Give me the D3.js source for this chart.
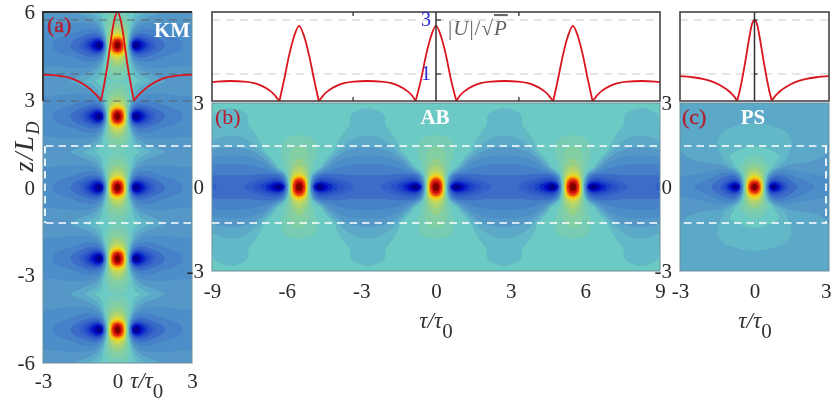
<!DOCTYPE html>
<html><head><meta charset="utf-8">
<script src="https://cdn.jsdelivr.net/npm/d3@7"></script>
<style>html,body{margin:0;background:#fff}svg{display:block}text{font-family:"Liberation Serif",serif}</style>
</head><body><svg id="c" width="831" height="402"></svg>
<script>
// Colour bands of the filled contour plots (value >= threshold gets the colour)
const thresholds=[0,.05,.1,.16,.22,.28,.34,.4,.5,.6,.7,.8,.9,1.0,1.1,1.2,1.35,1.5,1.7,1.9,2.1,2.3,2.5,2.7,2.85];
const bandColors=["#000070","#00009a","#0008c0","#0a28c8","#1e42c8","#2a52c8","#3060c8","#3a6cc8","#4480c8","#4c8ec8","#5498c8","#5ca8c8","#64b8c8","#6ccac4","#78ccb4","#84cea4","#98d088","#b0d470","#ccd850","#ecd820","#f8b808","#f48008","#e83808","#c80808","#800000"];

// Fields, one quadrant of a repeating tile each:
// rows run along zKnots, columns along tauKnots. The tile is mirrored and repeated at the peak centres.
const tauKnotsAC=[0,.12,.24,.36,.48,.6,.72,.84,1.0,1.2,1.45,1.8,2.2,2.6,3.0];
const tauKnotsB=[0,.12,.24,.36,.48,.6,.72,.84,1.0,1.2,1.45,1.7,2.0,2.35,2.75];
const zKnotsA=[0,.1,.2,.3,.4,.55,.7,.85,1.03,1.215];
const zKnotsBC=[0,.1,.2,.3,.42,.55,.7,.9,1.1,1.35,1.6,1.9,2.25,2.6,3.0];
const peakZsA=[-4.86,-2.43,0,2.43,4.86];
const peakTausB=[-11,-5.5,0,5.5,11];
const fieldA=[
[3,2.85,2.5,1.5,.6,.1,.02,.05,.14,.24,.36,.48,.55,.6,.62],
[2.95,2.8,2.45,1.5,.65,.18,.08,.1,.18,.28,.38,.49,.56,.6,.63],
[2.7,2.6,2.25,1.45,.8,.38,.22,.2,.26,.34,.43,.52,.57,.61,.64],
[2.25,2.15,1.9,1.4,.92,.55,.4,.36,.38,.43,.5,.56,.6,.63,.65],
[1.9,1.82,1.65,1.35,1.0,.7,.54,.49,.49,.51,.56,.6,.63,.65,.67],
[1.6,1.56,1.45,1.28,1.08,.86,.7,.63,.6,.59,.61,.64,.66,.68,.69],
[1.4,1.38,1.32,1.22,1.1,.96,.83,.75,.69,.67,.67,.68,.69,.7,.7],
[1.27,1.26,1.22,1.16,1.09,1.0,.91,.84,.79,.75,.73,.72,.72,.71,.71],
[1.17,1.16,1.14,1.11,1.07,1.02,.97,.93,.88,.84,.8,.76,.74,.72,.71],
[1.09,1.09,1.09,1.08,1.07,1.06,1.04,1.02,.99,.94,.88,.82,.77,.74,.72]];
const fieldB=[
[3,2.88,2.55,1.5,.6,.12,.03,.01,.07,.16,.24,.3,.36,.42,.45],
[2.95,2.82,2.5,1.5,.68,.26,.13,.09,.13,.2,.27,.33,.38,.43,.45],
[2.8,2.7,2.35,1.48,.8,.42,.28,.22,.24,.28,.33,.37,.41,.45,.46],
[2.55,2.45,2.1,1.42,.92,.57,.41,.34,.33,.35,.38,.42,.45,.47,.48],
[2.0,1.92,1.72,1.38,1.02,.72,.55,.47,.45,.45,.47,.48,.5,.5,.5],
[1.75,1.7,1.55,1.32,1.14,1.02,.88,.74,.62,.56,.54,.54,.54,.54,.54],
[1.55,1.52,1.42,1.27,1.16,1.07,1.04,1.0,.84,.69,.62,.59,.58,.57,.57],
[1.42,1.38,1.32,1.24,1.17,1.11,1.06,1.03,1.0,.84,.71,.66,.63,.62,.62],
[1.32,1.3,1.27,1.22,1.17,1.13,1.1,1.06,1.03,1.0,.84,.75,.71,.69,.69],
[1.24,1.23,1.21,1.18,1.15,1.12,1.1,1.08,1.05,1.02,1.0,.87,.81,.78,.78],
[1.16,1.16,1.15,1.14,1.13,1.11,1.09,1.07,1.05,1.03,1.01,.98,.89,.86,.85],
[1.09,1.09,1.08,1.08,1.07,1.07,1.06,1.05,1.04,1.03,1.02,1.01,.96,.92,.91],
[1.05,1.05,1.05,1.05,1.05,1.04,1.04,1.04,1.04,1.03,1.03,1.02,1.01,.96,.95],
[1.04,1.04,1.04,1.04,1.03,1.03,1.03,1.03,1.03,1.03,1.02,1.02,1.0,.99,.98],
[1.03,1.03,1.03,1.03,1.03,1.03,1.03,1.03,1.03,1.03,1.03,1.03,1.02,1.02,1.01]];
const fieldC=[
[3,2.88,2.5,1.5,.6,.12,.02,.04,.14,.28,.42,.52,.58,.61,.64],
[2.9,2.78,2.42,1.48,.66,.24,.11,.12,.2,.32,.44,.53,.59,.62,.64],
[2.65,2.55,2.2,1.42,.78,.4,.26,.25,.31,.39,.48,.56,.61,.64,.66],
[2.25,2.15,1.88,1.38,.92,.56,.42,.38,.4,.45,.53,.6,.64,.67,.69],
[1.9,1.82,1.62,1.32,1.0,.74,.58,.5,.5,.54,.59,.65,.68,.7,.71],
[1.6,1.55,1.45,1.3,1.14,.98,.8,.7,.62,.62,.66,.7,.72,.73,.74],
[1.42,1.38,1.32,1.24,1.17,1.12,1.03,.95,.85,.76,.73,.74,.75,.76,.77],
[1.2,1.19,1.17,1.13,1.09,1.06,1.03,1.01,.98,.91,.85,.82,.8,.79,.78],
[1.11,1.11,1.1,1.09,1.07,1.05,1.04,1.03,1.0,.93,.87,.84,.82,.81,.79],
[1.02,1.02,1.02,1.01,1.0,.995,.99,.98,.97,.95,.9,.85,.83,.82,.8],
[.97,.97,.97,.97,.97,.96,.96,.96,.95,.93,.91,.86,.84,.82,.81],
[.95,.95,.95,.95,.95,.95,.95,.94,.93,.92,.89,.85,.84,.83,.82],
[.905,.905,.9,.9,.9,.89,.89,.88,.88,.87,.86,.84,.83,.83,.82],
[.87,.87,.87,.86,.86,.86,.85,.85,.85,.84,.84,.83,.83,.82,.82],
[.83,.83,.83,.83,.83,.83,.83,.83,.83,.83,.82,.82,.82,.82,.82]];

// Red profile curves |U|/sqrt(P) against tau
const curveATau=[-3,-2.5,-2.03,-1.7,-1.37,-1.1,-.96,-.85,-.75,-.67,-.6,-.5,-.4,-.3,-.2,-.1,0,.1,.2,.3,.4,.5,.6,.67,.75,.85,.96,1.1,1.37,1.7,2.03,2.5,3];
const curveAVal=[.98,.95,.88,.78,.62,.44,.32,.22,.12,0,.3,.8,1.35,2.0,2.65,3.1,3.3,3.1,2.65,2.0,1.35,.8,.3,0,.12,.22,.32,.44,.62,.78,.88,.95,.98];
const curveBTau=[-9,-8.8,-8.25,-7.7,-7.3,-7,-6.7,-6.5,-6.4,-6.29,-6.1,-5.9,-5.7,-5.5,-5.3,-5.1,-4.9,-4.71,-4.6,-4.5,-4.3,-4,-3.7,-3.3,-2.75,-2.2,-1.8,-1.5,-1.2,-1,-.9,-.82,-.6,-.4,-.2,0,.2,.4,.6,.82,.9,1,1.2,1.5,1.8,2.2,2.75,3.3,3.7,4,4.3,4.5,4.6,4.71,4.9,5.1,5.3,5.5,5.7,5.9,6.1,6.29,6.4,6.5,6.7,7,7.3,7.7,8.25,8.8,9];
const curveBVal=[.7,.72,.74,.72,.66,.56,.4,.24,.12,0,.8,1.7,2.4,2.78,2.4,1.7,.8,0,.12,.24,.4,.56,.66,.72,.74,.72,.66,.56,.4,.24,.12,0,.8,1.7,2.4,2.78,2.4,1.7,.8,0,.12,.24,.4,.56,.66,.72,.74,.72,.66,.56,.4,.24,.12,0,.8,1.7,2.4,2.78,2.4,1.7,.8,0,.12,.24,.4,.56,.66,.72,.74,.72,.7];
const curveCTau=[-3,-2.5,-2,-1.6,-1.3,-1.05,-.9,-.78,-.7,-.6,-.5,-.4,-.3,-.2,-.1,0,.1,.2,.3,.4,.5,.6,.7,.78,.9,1.05,1.3,1.6,2,2.5,3];
const curveCVal=[.92,.88,.8,.68,.54,.38,.25,.12,0,.35,.8,1.3,1.85,2.4,2.85,3.0,2.85,2.4,1.85,1.3,.8,.35,0,.12,.25,.38,.54,.68,.8,.88,.92];

const xTicksA=[-3,0,3], yTicksA=[-6,-3,0,3,6];
const xTicksB=[-9,-6,-3,0,3,6,9], yTicksB=[-3,0,3];
const xTicksC=[-3,0,3];
const insetRefLines=[1,3];
const insetTauMarksB=[-3.33,3.33];
const insetMarksVal=[1,3];

const svg=d3.select("#c");
const defs=svg.append("defs");
defs.append("filter").attr("id","soft").attr("x","-5%").attr("y","-5%").attr("width","110%").attr("height","110%")
  .append("feGaussianBlur").attr("stdDeviation",0.75);
defs.append("filter").attr("id","softer").attr("x","-5%").attr("y","-5%").attr("width","110%").attr("height","110%")
  .append("feGaussianBlur").attr("stdDeviation",0.35);

const xA=d3.scaleLinear().domain([-3,3]).range([43,192]);
const yA=d3.scaleLinear().domain([-6,6]).range([363,12]);
const xB=d3.scaleLinear().domain([-9,9]).range([212,660]);
const yB=d3.scaleLinear().domain([-3,3]).range([271,103]);
const xC=d3.scaleLinear().domain([-3,3]).range([680,829]);
const yInset=d3.scaleLinear().domain([0,3]).range([101,20]);

function mirrored(knots,centers){
  const out=[];
  function push(p,k){ if(!out.length||p-out[out.length-1].p>1e-6) out.push({p,k}); }
  centers.forEach(c=>{
    for(let k=knots.length-1;k>=0;k--) push(c-knots[k],k);
    for(let k=1;k<knots.length;k++) push(c+knots[k],k);
  });
  // pad past the plot so that band edges are not rounded off at the frame
  const a=out[0],b=out[out.length-1];
  return [{p:a.p-.8,k:a.k},...out,{p:b.p+.8,k:b.k}];
}
function drawField(id,matrix,tauKnots,zKnots,tauCenters,zCenters,x,y){
  const cols=mirrored(tauKnots,tauCenters), rows=mirrored(zKnots,zCenters);
  const m=cols.length,n=rows.length,values=new Float64Array(m*n);
  rows.forEach((r,j)=>cols.forEach((c,i)=>{values[j*m+i]=matrix[r.k][c.k];}));
  const ix=d3.scaleLinear().domain(d3.range(m)).range(cols.map(c=>c.p)).clamp(true);
  const iy=d3.scaleLinear().domain(d3.range(n)).range(rows.map(r=>r.p)).clamp(true);
  const ring=d3.line().x(d=>x(ix(d[0]-.5))).y(d=>y(iy(d[1]-.5))).curve(d3.curveBasisClosed);
  const pathOf=c=>c.coordinates.map(poly=>poly.map(r=>ring(r.slice(0,-1))).join("")).join("");
  const [x0,x1]=x.range(),[y1,y0]=y.range();
  defs.append("clipPath").attr("id",id).append("rect").attr("x",x0).attr("y",y0).attr("width",x1-x0).attr("height",y1-y0);
  const outer=svg.append("g").attr("clip-path",`url(#${id})`);
  const g=outer.append("g").attr("filter","url(#soft)");
  g.append("rect").attr("x",x0-4).attr("y",y0-4).attr("width",x1-x0+8).attr("height",y1-y0+8).attr("fill",bandColors[0]);
  const cs=d3.contours().size([m,n]).thresholds(thresholds)(values);
  g.selectAll("path").data(cs).join("path").attr("d",pathOf).attr("fill-rule","evenodd").attr("fill",(d,i)=>bandColors[i]);
  svg.append("rect").attr("x",x0).attr("y",y0).attr("width",x1-x0).attr("height",y1-y0)
     .attr("fill","none").attr("stroke","#6f8d9c").attr("stroke-width",1);
}
drawField("fa",fieldA,tauKnotsAC,zKnotsA,[0],peakZsA,xA,yA);
drawField("fb",fieldB,tauKnotsB,zKnotsBC,peakTausB,[0],xB,yB);
drawField("fc",fieldC,tauKnotsAC,zKnotsBC,[0],[0],xC,yB);

const ink=svg.append("g").attr("filter","url(#softer)");

// white dashed window
function dash(x1,y1,x2,y2){ink.append("line").attr("x1",x1).attr("y1",y1).attr("x2",x2).attr("y2",y2)
  .attr("stroke","#fff").attr("stroke-width",1.7).attr("stroke-dasharray","7.5 5");}
dash(46,146,192,146);dash(46,223,192,223);dash(45,146,45,223);
dash(212,146,660,146);dash(212,223,660,223);
dash(684,146,827,146);dash(684,223,827,223);dash(826,146,826,223);

// insets
function inset(x,tau,val,refColor,refOpacity){
  const [x0,x1]=x.range();
  insetRefLines.forEach(v=>ink.append("line").attr("x1",x0).attr("x2",x1).attr("y1",yInset(v)).attr("y2",yInset(v))
    .attr("stroke",refColor).attr("stroke-opacity",refOpacity).attr("stroke-width",1.3).attr("stroke-dasharray","8 6"));
  const segs=[];let cur=[];
  tau.forEach((t,i)=>{cur.push([t,val[i]]);if(val[i]===0){segs.push(cur);cur=[[t,0]];}});
  segs.push(cur);
  const line=d3.line().x(d=>x(d[0])).y(d=>yInset(d[1])).curve(d3.curveMonotoneX);
  segs.forEach(s=>ink.append("path").attr("d",line(s)).attr("fill","none").attr("stroke","#d9141e").attr("stroke-width",1.8));
}
inset(xA,curveATau,curveAVal,"#555",.55);
ink.append("line").attr("x1",43).attr("x2",192).attr("y1",yInset(0)).attr("y2",yInset(0)).attr("stroke","#555").attr("stroke-opacity",.55).attr("stroke-width",1.3).attr("stroke-dasharray","8 6");
ink.append("path").attr("d","M43 101V12H192").attr("fill","none").attr("stroke","#2f2f2f").attr("stroke-width",1.8);

inset(xB,curveBTau,curveBVal,"#ddd",1);
ink.append("rect").attr("x",212).attr("y",12).attr("width",448).attr("height",89).attr("fill","none").attr("stroke","#444").attr("stroke-width",1.6);
ink.append("line").attr("x1",xB(0)).attr("x2",xB(0)).attr("y1",12).attr("y2",101).attr("stroke","#333").attr("stroke-width",1.5);
inset(xC,curveCTau,curveCVal,"#ddd",1);
ink.append("rect").attr("x",680).attr("y",12).attr("width",149).attr("height",89).attr("fill","none").attr("stroke","#444").attr("stroke-width",1.6);
ink.append("line").attr("x1",xC(0)).attr("x2",xC(0)).attr("y1",12).attr("y2",101).attr("stroke","#333").attr("stroke-width",1.5);

// inset tick marks
insetTauMarksB.forEach(t=>{[[12,16],[97,101]].forEach(([a,b])=>ink.append("line").attr("x1",xB(t)).attr("x2",xB(t)).attr("y1",a).attr("y2",b).attr("stroke","#333").attr("stroke-width",1.3));});
insetMarksVal.forEach(v=>{
  ink.append("line").attr("x1",xB(0)).attr("x2",xB(0)+5).attr("y1",yInset(v)).attr("y2",yInset(v)).attr("stroke","#333").attr("stroke-width",1.2);
  ink.append("line").attr("x1",xC(0)).attr("x2",xC(0)+3).attr("y1",yInset(v)).attr("y2",yInset(v)).attr("stroke","#333").attr("stroke-width",1.2);
});

// axes: labels only, as in the reference
function styleAxis(g){g.select(".domain").remove();g.selectAll("line").remove();
  g.selectAll("text").attr("font-size",21).attr("fill","#2b2b2b").style("font-family",'"Liberation Serif",serif');}
function axisL(y,ticks,x){ink.append("g").attr("transform",`translate(${x},0)`).call(d3.axisLeft(y).tickValues(ticks).tickSize(0).tickPadding(8).tickFormat(String)).call(styleAxis);}
function axisB(x,ticks,y){return ink.append("g").attr("transform",`translate(0,${y})`).call(d3.axisBottom(x).tickValues(ticks).tickSize(0).tickPadding(8).tickFormat(String)).call(styleAxis);}
axisL(yA,yTicksA,43);axisL(yB,yTicksB,212);axisL(yB,yTicksB,680);
axisB(xA,xTicksA,365);axisB(xB,xTicksB,275);
// the last label of panel (c) sits on the window edge: anchor it inside so that it stays whole
axisB(xC,xTicksC,275).selectAll("text").filter(d=>d===3).attr("text-anchor","end").attr("dx",2);

// text
function txt(x,y,s,size,fill,anchor,weight){return ink.append("text").attr("x",x).attr("y",y).attr("font-size",size).attr("fill",fill).attr("text-anchor",anchor||"start").attr("font-weight",weight||"normal").text(s);}
txt(47,32,"(a)",22,"#b51d2b").attr("stroke","#b51d2b").attr("stroke-width",.4);
txt(215,124,"(b)",22,"#b51d2b");
txt(682,124,"(c)",22,"#b51d2b").attr("stroke","#b51d2b").attr("stroke-width",.3);
txt(172,37,"KM",21,"#fff","middle","bold");
txt(435,124,"AB",21,"#fff","middle","bold");
txt(753,124,"PS",21,"#fff","middle","bold");
[["3",yInset(3)],["1",yInset(1)]].forEach(([s,y])=>txt(431,y+6,s,20,"#2a2ad8","end"));

function tauLabel(x,y,anchor){const t=ink.append("text").attr("x",x).attr("y",y).attr("font-size",23).attr("fill","#333").attr("text-anchor",anchor);
  t.append("tspan").attr("font-style","italic").text("\u03c4/\u03c4");
  t.append("tspan").attr("dy",10).attr("font-size",21).text("0");}
tauLabel(436,328,"middle");tauLabel(755,328,"middle");tauLabel(130,388,"start");

const zl=ink.append("text").attr("transform","translate(33,172) rotate(-90)").attr("font-size",27).attr("fill","#333").attr("letter-spacing",1.5);
zl.append("tspan").attr("font-style","italic").text("z/L");
zl.append("tspan").attr("font-style","italic").attr("dy",6).attr("font-size",18).text("D");

const ul=ink.append("text").attr("x",448).attr("y",35).attr("font-size",21).attr("fill","#666").attr("letter-spacing",1);
ul.append("tspan").text("|");
ul.append("tspan").attr("font-style","italic").text("U");
ul.append("tspan").text("|/\u221a");
ul.append("tspan").attr("font-style","italic").style("text-decoration","overline").text("P");
</script></body></html>
